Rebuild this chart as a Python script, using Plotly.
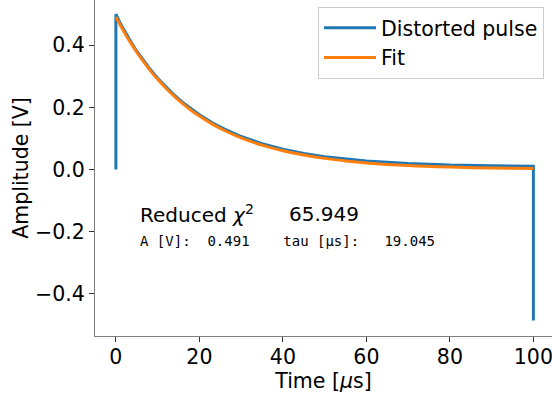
import plotly.graph_objects as go

# Sampled pulse (time in microseconds, amplitude in volts)
t_pulse = [0, 0, 1, 2, 3, 4, 5, 6, 8, 10, 12, 14, 16, 18, 20, 23, 26, 30, 35, 40,
           45, 50, 55, 60, 70, 80, 90, 100, 100]
v_pulse = [0.0, 0.500, 0.472, 0.447, 0.424, 0.402, 0.381, 0.362, 0.326, 0.294, 0.265,
           0.239, 0.216, 0.195, 0.176, 0.151, 0.130, 0.106, 0.083, 0.065, 0.051,
           0.041, 0.033, 0.027, 0.019, 0.014, 0.012, 0.010, -0.487]

# Exponential fit evaluated on the same time grid
t_fit = [0, 1, 2, 3, 4, 5, 6, 8, 10, 12, 14, 16, 18, 20, 23, 26, 30, 35, 40,
         45, 50, 55, 60, 70, 80, 90, 100]
v_fit = [0.4910, 0.4659, 0.4421, 0.4195, 0.3980, 0.3776, 0.3583, 0.3226, 0.2904,
         0.2615, 0.2354, 0.2120, 0.1908, 0.1718, 0.1468, 0.1254, 0.1016, 0.0782,
         0.0601, 0.0462, 0.0355, 0.0274, 0.0210, 0.0124, 0.0074, 0.0044, 0.0026]

fit_A = "0.491"
fit_tau = "19.045"
red_chi2 = "65.949"

x_ticks = [0, 20, 40, 60, 80, 100]
y_ticks = [-0.4, -0.2, 0.0, 0.2, 0.4]

BLUE = "#1f77b4"
ORANGE = "#ff7f0e"
FONT = "DejaVu Sans"
FS = 20.5
W, H = 552, 394
L, R, T, B = 95, 0, 0, 58
PW, PH = W - L - R, H - T - B


def px_x(px):
    return (px - L) / PW


def px_y(py):
    return (H - B - py) / PH


fig = go.Figure()
fig.add_trace(go.Scatter(x=t_pulse, y=v_pulse, mode="lines", name="Distorted pulse",
                         line=dict(color=BLUE, width=3)))
fig.add_trace(go.Scatter(x=t_fit, y=v_fit, mode="lines", name="Fit",
                         line=dict(color=ORANGE, width=3, shape="spline")))

nb = "\u00a0"
fig.add_annotation(xref="paper", yref="paper", x=px_x(138), y=px_y(214),
                   xanchor="left", yanchor="middle", showarrow=False,
                   text="Reduced <i>χ</i><sup>2</sup>",
                   font=dict(family=FONT, size=20, color="black"))
fig.add_annotation(xref="paper", yref="paper", x=px_x(287), y=px_y(214),
                   xanchor="left", yanchor="middle", showarrow=False,
                   text=red_chi2,
                   font=dict(family=FONT, size=20, color="black"))
fig.add_annotation(xref="paper", yref="paper", x=px_x(138), y=px_y(241),
                   xanchor="left", yanchor="middle", showarrow=False,
                   text=f"A [V]:{nb*2}{fit_A}{nb*4}tau [μs]:{nb*3}{fit_tau}",
                   font=dict(family="DejaVu Sans Mono", size=14, color="black"))

axis_common = dict(showline=True, linecolor="#808080", linewidth=1.3,
                   ticks="outside", ticklen=5, tickwidth=1.2, tickcolor="#333333",
                   showgrid=False, zeroline=False, mirror=False,
                   ticklabeloverflow="allow",
                   tickfont=dict(family=FONT, size=FS, color="black"))

fig.update_layout(
    width=W, height=H,
    margin=dict(l=L, r=R, t=T, b=B, pad=0),
    paper_bgcolor="white", plot_bgcolor="white",
    font=dict(family=FONT, size=FS, color="black"),
    xaxis=dict(range=[-5, 104.46], tickvals=x_ticks, ticklabelstandoff=-3,
               title=dict(text="Time [<i>μ</i>s]", font=dict(size=FS), standoff=0),
               **axis_common),
    yaxis=dict(range=[-0.537, 0.546], tickvals=y_ticks, tickformat=".1f",
               title=dict(text="Amplitude [V]", font=dict(size=FS), standoff=0),
               **axis_common),
    legend=dict(x=px_x(544), y=px_y(7), xanchor="right", yanchor="top",
                bgcolor="white", bordercolor="#cccccc", borderwidth=1,
                font=dict(family=FONT, size=FS, color="black"),
                itemwidth=52, tracegroupgap=0),
    showlegend=True,
)

fig.write_html("out.html")
